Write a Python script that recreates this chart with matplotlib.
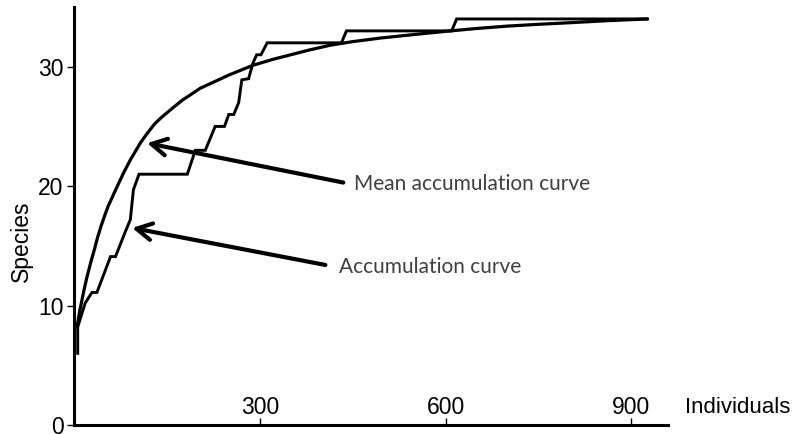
import matplotlib
matplotlib.use("Agg")
import matplotlib.pyplot as plt

# --- Data ---
# observed (step-like) accumulation curve
obs_x = [6, 6, 18, 29, 37, 59, 67, 83, 91, 96, 105, 183, 196, 212, 228, 243,
         250, 258, 266, 271, 282, 289, 295, 302, 312, 432, 440, 610, 618, 926]
obs_y = [6.0, 8.2, 10.2, 11.1, 11.1, 14.1, 14.1, 16.2, 17.2, 19.7, 21.0, 21.0,
         23.0, 23.0, 25.0, 25.0, 26.0, 26.0, 27.0, 28.9, 29.0, 30.3, 31.0, 31.0,
         32.0, 32.0, 33.0, 33.0, 34.0, 34.0]

# mean accumulation curve
mean_x = [5, 9, 13, 17, 21, 28, 33, 38, 44, 50, 55, 62, 70, 80, 91, 99, 107,
          118, 130, 140, 156, 175, 204, 225, 250, 288, 320, 350, 380, 414, 450,
          495, 550, 608, 650, 700, 750, 807, 860, 926]
mean_y = [8.2, 9.5, 10.5, 11.5, 12.4, 13.8, 14.7, 15.7, 16.7, 17.6, 18.3, 19.1,
          20.0, 21.1, 22.2, 22.9, 23.6, 24.4, 25.2, 25.7, 26.4, 27.2, 28.2, 28.7,
          29.3, 30.1, 30.6, 31.0, 31.4, 31.8, 32.1, 32.4, 32.7, 33.0, 33.2, 33.4,
          33.55, 33.7, 33.85, 34.0]

x_ticks = [300, 600, 900]
y_ticks = [0, 10, 20, 30]

# annotation: (label, text pos, arrow tail, arrow tip)
mean_label = ("Mean accumulation curve", (452, 20.2), (435, 20.3), (118, 23.6))
obs_label = ("Accumulation curve", (428, 13.25), (406, 13.4), (94, 16.5))

TICK_FONT = "Liberation Sans"
NOTE_FONT = "Lato"

fig = plt.figure(figsize=(7.97, 4.34), dpi=100)
ax = fig.add_axes([74 / 797, 9 / 434, 594.4 / 797, 418 / 434])

ax.plot(mean_x, mean_y, color="black", lw=2.3, solid_joinstyle="round",
        solid_capstyle="round")
ax.plot(obs_x, obs_y, color="black", lw=2.1, solid_joinstyle="miter")

ax.set_xlim(0, 960)
ax.set_ylim(0, 35)

for side in ["top", "right"]:
    ax.spines[side].set_visible(False)
for side in ["left", "bottom"]:
    ax.spines[side].set_linewidth(2.2)

ax.set_xticks(x_ticks)
ax.set_xticklabels([str(v) for v in x_ticks], family=TICK_FONT, fontsize=16.5)
ax.set_yticks(y_ticks)
ax.set_yticklabels([str(v) for v in y_ticks], family=TICK_FONT, fontsize=16.5)
ax.tick_params(axis="x", direction="in", length=5, width=1, pad=-21)
ax.tick_params(axis="y", direction="out", length=5, width=1, pad=2.5)

ax.set_xlabel("Individuals", family=TICK_FONT, fontsize=16, ha="left", va="center")
ax.xaxis.set_label_coords(1.028, 0.043)
ax.set_ylabel("Species", family=TICK_FONT, fontsize=16.5, va="center")
ax.yaxis.set_label_coords(-0.088, 0.44)

for text, tpos, tail, tip in [mean_label, obs_label]:
    ax.annotate("", xy=tip, xytext=tail,
                arrowprops=dict(arrowstyle="->,head_length=0.55,head_width=0.3",
                                lw=3.0, color="black", mutation_scale=20,
                                shrinkA=0, shrinkB=0))
    ax.text(tpos[0], tpos[1], text, family=NOTE_FONT, fontsize=15,
            color="#404040", ha="left", va="center")

fig.savefig("out.png", dpi=100)
